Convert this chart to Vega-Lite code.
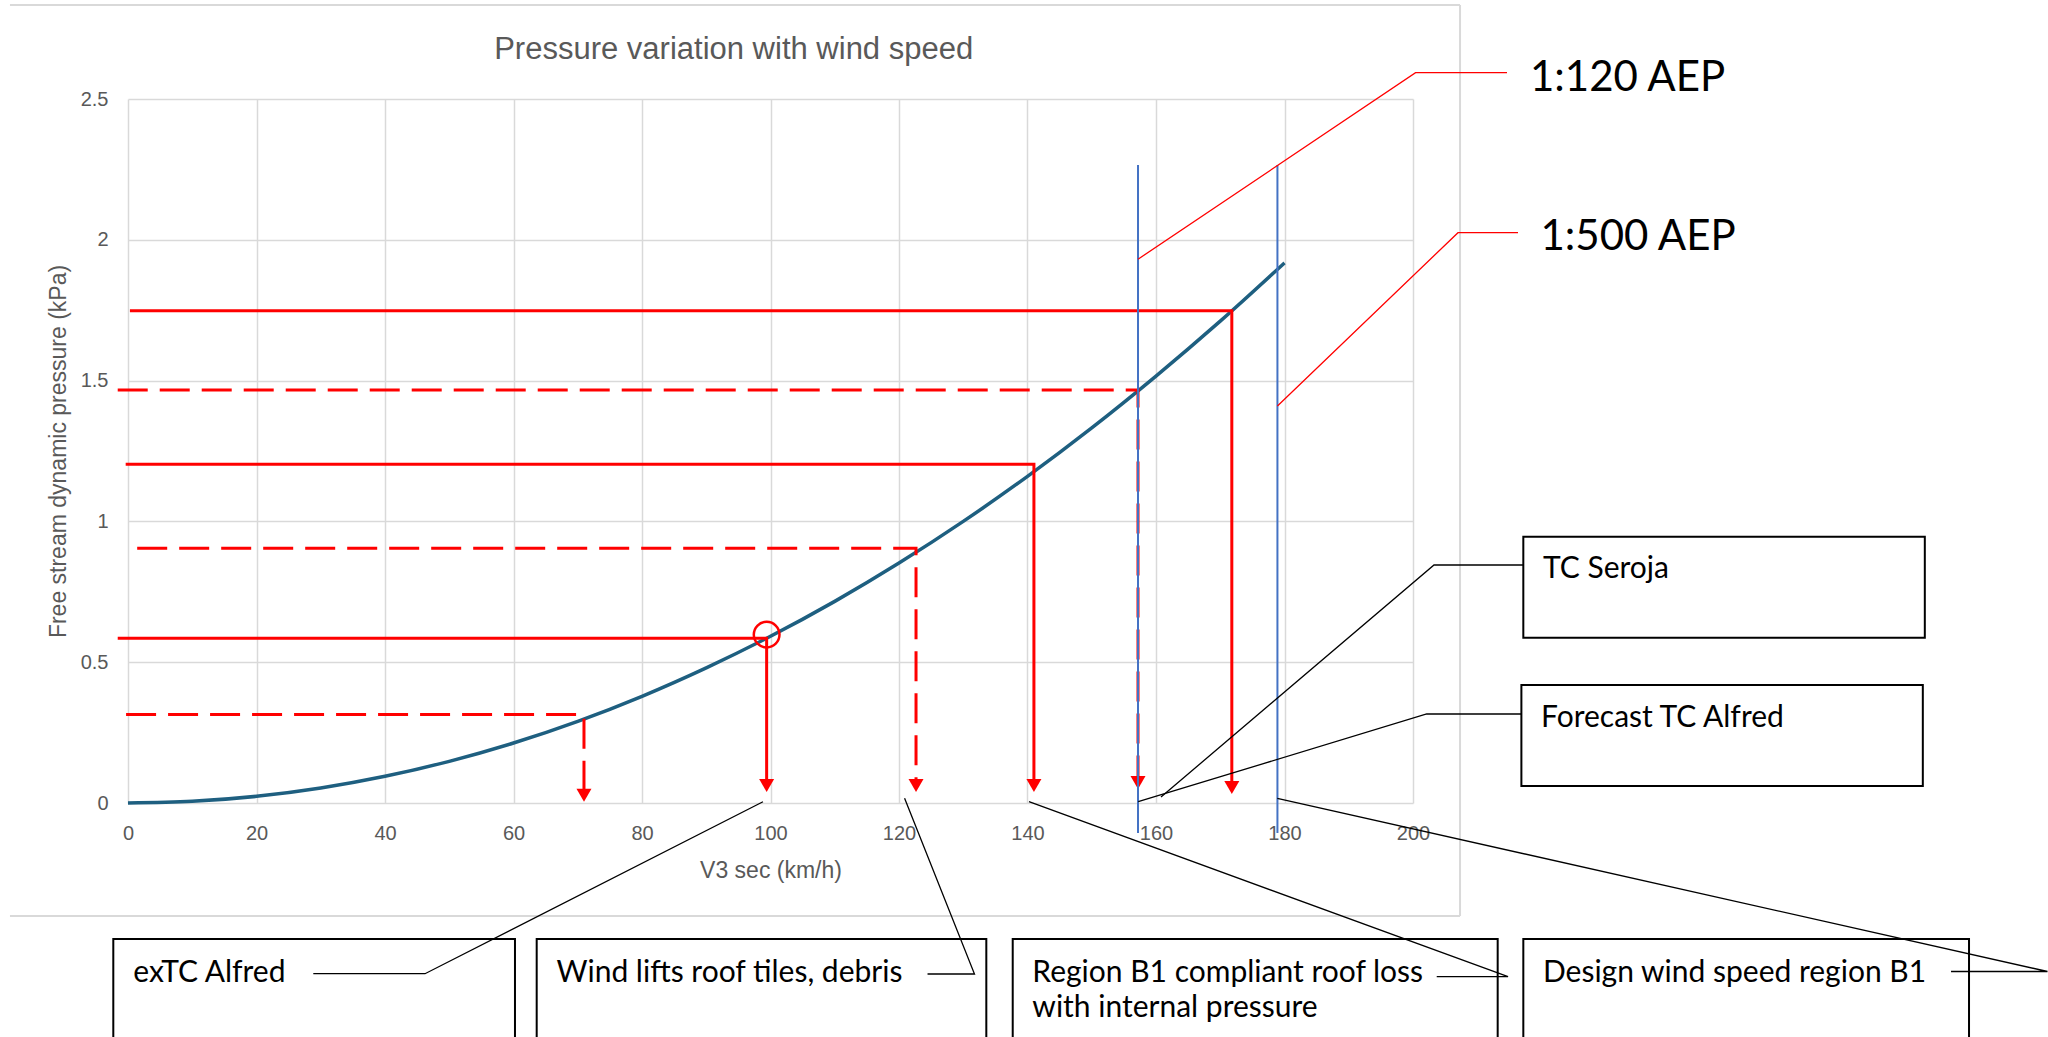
{
  "$schema": "https://vega.github.io/schema/vega-lite/v6.json",
  "width": 1285,
  "height": 704,
  "autosize": {"type": "none"},
  "padding": {"left": 128, "top": 99, "right": 635, "bottom": 234},
  "background": "white",
  "config": {"view": {"stroke": null}},
  "datasets": {
    "curve": [
      {"x": 0, "y": 0}, {"x": 10, "y": 0.0059}, {"x": 20, "y": 0.0237}, {"x": 30, "y": 0.0533},
      {"x": 40, "y": 0.0947}, {"x": 50, "y": 0.148}, {"x": 60, "y": 0.213}, {"x": 70, "y": 0.29},
      {"x": 80, "y": 0.379}, {"x": 90, "y": 0.48}, {"x": 100, "y": 0.592}, {"x": 110, "y": 0.716},
      {"x": 120, "y": 0.852}, {"x": 130, "y": 1.0}, {"x": 140, "y": 1.16}, {"x": 150, "y": 1.332},
      {"x": 160, "y": 1.516}, {"x": 170, "y": 1.711}, {"x": 180, "y": 1.918}
    ],
    "frame": [
      {"x": -18.37, "y": 2.834, "x2": 207.32, "y2": 2.834},
      {"x": 207.32, "y": 2.834, "x2": 207.32, "y2": -0.4013},
      {"x": -18.37, "y": -0.4013, "x2": 207.32, "y2": -0.4013}
    ],
    "boxes": [
      {"x": -2.288, "x2": 60.23, "y": -0.483, "y2": -0.8594},
      {"x": 63.61, "x2": 133.59, "y": -0.483, "y2": -0.8594},
      {"x": 137.7, "x2": 213.18, "y": -0.483, "y2": -0.8594},
      {"x": 217.17, "x2": 286.54, "y": -0.483, "y2": -0.8594},
      {"x": 217.17, "x2": 279.66, "y": 0.9457, "y2": 0.587},
      {"x": 216.87, "x2": 279.35, "y": 0.419, "y2": 0.0604}
    ],
    "redSolid": [
      {"id": "a", "o": 1, "x": -1.6, "y": 0.585}, {"id": "a", "o": 2, "x": 99.4, "y": 0.585}, {"id": "a", "o": 3, "x": 99.4, "y": 0.0621},
      {"id": "b", "o": 1, "x": -0.36, "y": 1.203}, {"id": "b", "o": 2, "x": 141.0, "y": 1.203}, {"id": "b", "o": 3, "x": 141.0, "y": 0.0621},
      {"id": "c", "o": 1, "x": 0.3, "y": 1.748}, {"id": "c", "o": 2, "x": 171.8, "y": 1.748}, {"id": "c", "o": 3, "x": 171.8, "y": 0.055}
    ],
    "redDashed": [
      {"id": "d", "o": 1, "x": -0.3, "y": 0.314}, {"id": "d", "o": 2, "x": 70.97, "y": 0.314}, {"id": "d", "o": 3, "x": 70.97, "y": 0.0277},
      {"id": "e", "o": 1, "x": 1.43, "y": 0.905}, {"id": "e", "o": 2, "x": 122.65, "y": 0.905}, {"id": "e", "o": 3, "x": 122.65, "y": 0.0621},
      {"id": "f", "o": 1, "x": -1.6, "y": 1.467}, {"id": "f", "o": 2, "x": 157.2, "y": 1.467}, {"id": "f", "o": 3, "x": 157.2, "y": 0.0728}
    ],
    "arrows": [
      {"x": 70.97, "y": 0.0277}, {"x": 99.4, "y": 0.0621}, {"x": 122.65, "y": 0.0621},
      {"x": 141.0, "y": 0.0621}, {"x": 157.2, "y": 0.0728}, {"x": 171.8, "y": 0.055}
    ],
    "circle": [{"x": 99.4, "y": 0.598}],
    "blue": [
      {"x": 157.2, "y": 2.266, "y2": -0.1065},
      {"x": 178.9, "y": 2.266, "y2": -0.1065}
    ],
    "leadersRed": [
      {"id": "p", "o": 1, "x": 157.2, "y": 1.931}, {"id": "p", "o": 2, "x": 200.4, "y": 2.5934}, {"id": "p", "o": 3, "x": 214.63, "y": 2.5934},
      {"id": "q", "o": 1, "x": 178.9, "y": 1.41}, {"id": "q", "o": 2, "x": 207.0, "y": 2.0252}, {"id": "q", "o": 3, "x": 216.34, "y": 2.0252}
    ],
    "leadersBlack": [
      {"id": "s", "o": 1, "x": 217.17, "y": 0.8452}, {"id": "s", "o": 2, "x": 203.27, "y": 0.8452}, {"id": "s", "o": 3, "x": 160.78, "y": 0.0213},
      {"id": "t", "o": 1, "x": 216.87, "y": 0.3161}, {"id": "t", "o": 2, "x": 202.13, "y": 0.3161}, {"id": "t", "o": 3, "x": 157.23, "y": 0.0046},
      {"id": "u", "o": 1, "x": 28.84, "y": -0.6062}, {"id": "u", "o": 2, "x": 46.23, "y": -0.6062}, {"id": "u", "o": 3, "x": 98.83, "y": 0.0046},
      {"id": "v", "o": 1, "x": 124.44, "y": -0.6072}, {"id": "v", "o": 2, "x": 131.75, "y": -0.6072}, {"id": "v", "o": 3, "x": 120.87, "y": 0.0167},
      {"id": "w", "o": 1, "x": 203.69, "y": -0.6168}, {"id": "w", "o": 2, "x": 214.79, "y": -0.6168}, {"id": "w", "o": 3, "x": 140.23, "y": 0.0046},
      {"id": "z", "o": 1, "x": 283.74, "y": -0.5984}, {"id": "z", "o": 2, "x": 298.75, "y": -0.5984}, {"id": "z", "o": 3, "x": 178.88, "y": 0.0167}
    ],
    "labelsBig": [
      {"x": 218.21, "y": 2.5295, "text": "1:120 AEP"},
      {"x": 219.84, "y": 1.9638, "text": "1:500 AEP"}
    ],
    "labelsBox": [
      {"x": 220.23, "y": 0.798, "text": "TC Seroja"},
      {"x": 219.92, "y": 0.271, "text": "Forecast TC Alfred"},
      {"x": 0.825, "y": -0.6374, "text": "exTC Alfred"},
      {"x": 66.69, "y": -0.6374, "text": "Wind lifts roof tiles, debris"},
      {"x": 140.75, "y": -0.6374, "text": "Region B1 compliant roof loss"},
      {"x": 140.75, "y": -0.76, "text": "with internal pressure"},
      {"x": 220.23, "y": -0.6374, "text": "Design wind speed region B1"}
    ],
    "chartTitle": [{"x": 94.27, "y": 2.6438, "text": "Pressure variation with wind speed"}]
  },
  "encoding": {
    "x": {
      "field": "x", "type": "quantitative",
      "scale": {"domain": [0, 200], "nice": false, "zero": false},
      "axis": {
        "values": [0, 20, 40, 60, 80, 100, 120, 140, 160, 180, 200],
        "title": "V3 sec (km/h)",
        "grid": true, "gridColor": "#d9d9d9", "gridWidth": 1.5,
        "domain": false, "ticks": false, "tickSize": 0,
        "labelFlush": false, "labelOverlap": false,
        "labelFont": "Liberation Sans", "labelFontSize": 20, "labelColor": "#595959",
        "labelBaseline": "middle", "labelPadding": 30.5,
        "titleFont": "Liberation Sans", "titleFontSize": 23, "titleFontWeight": "normal", "titleColor": "#595959",
        "titleBaseline": "middle", "titleY": 67
      }
    },
    "y": {
      "field": "y", "type": "quantitative",
      "scale": {"domain": [0, 2.5], "nice": false, "zero": false},
      "axis": {
        "values": [0, 0.5, 1, 1.5, 2, 2.5],
        "format": "~g",
        "title": "Free stream dynamic pressure (kPa)",
        "grid": true, "gridColor": "#d9d9d9", "gridWidth": 1.5,
        "domain": false, "ticks": false, "tickSize": 0,
        "labelFlush": false, "labelOverlap": false,
        "labelFont": "Liberation Sans", "labelFontSize": 20, "labelColor": "#595959",
        "labelPadding": 20, "labelOffset": 0,
        "titleFont": "Liberation Sans", "titleFontSize": 23, "titleFontWeight": "normal", "titleColor": "#595959",
        "titleBaseline": "middle", "titleX": -70, "titleY": 352
      }
    }
  },
  "layer": [
    {
      "data": {"name": "frame"},
      "mark": {"type": "rule", "color": "#d9d9d9", "strokeWidth": 2},
      "encoding": {"x2": {"field": "x2"}, "y2": {"field": "y2"}}
    },
    {
      "data": {"name": "boxes"},
      "mark": {"type": "rect", "fill": null, "fillOpacity": 0, "stroke": "#000000", "strokeWidth": 2},
      "encoding": {"x2": {"field": "x2"}, "y2": {"field": "y2"}}
    },
    {
      "data": {"name": "curve"},
      "mark": {"type": "line", "color": "#1e5f80", "strokeWidth": 3.5, "interpolate": "monotone"}
    },
    {
      "data": {"name": "redSolid"},
      "mark": {"type": "line", "color": "#ff0000", "strokeWidth": 3},
      "encoding": {"detail": {"field": "id"}, "order": {"field": "o"}}
    },
    {
      "data": {"name": "redDashed"},
      "mark": {"type": "line", "color": "#ff0000", "strokeWidth": 3, "strokeDash": [30, 12], "strokeCap": "butt"},
      "encoding": {"detail": {"field": "id"}, "order": {"field": "o"}}
    },
    {
      "data": {"name": "arrows"},
      "mark": {"type": "point", "shape": "triangle-down", "size": 225, "filled": true, "color": "#ff0000", "opacity": 1}
    },
    {
      "data": {"name": "circle"},
      "mark": {"type": "point", "shape": "circle", "size": 660, "filled": false, "stroke": "#ff0000", "strokeWidth": 2.5, "opacity": 1}
    },
    {
      "data": {"name": "blue"},
      "mark": {"type": "rule", "color": "#4472c4", "strokeWidth": 2},
      "encoding": {"y2": {"field": "y2"}}
    },
    {
      "data": {"name": "leadersRed"},
      "mark": {"type": "line", "color": "#ff0000", "strokeWidth": 1.3},
      "encoding": {"detail": {"field": "id"}, "order": {"field": "o"}}
    },
    {
      "data": {"name": "leadersBlack"},
      "mark": {"type": "line", "color": "#000000", "strokeWidth": 1.3},
      "encoding": {"detail": {"field": "id"}, "order": {"field": "o"}}
    },
    {
      "data": {"name": "labelsBig"},
      "mark": {"type": "text", "align": "left", "baseline": "alphabetic", "font": "Lato", "fontSize": 42, "color": "#000000"},
      "encoding": {"text": {"field": "text"}}
    },
    {
      "data": {"name": "labelsBox"},
      "mark": {"type": "text", "align": "left", "baseline": "alphabetic", "font": "Lato", "fontSize": 30, "color": "#000000"},
      "encoding": {"text": {"field": "text"}}
    },
    {
      "data": {"name": "chartTitle"},
      "mark": {"type": "text", "align": "center", "baseline": "alphabetic", "font": "Liberation Sans", "fontSize": 31, "color": "#595959"},
      "encoding": {"text": {"field": "text"}}
    }
  ]
}
